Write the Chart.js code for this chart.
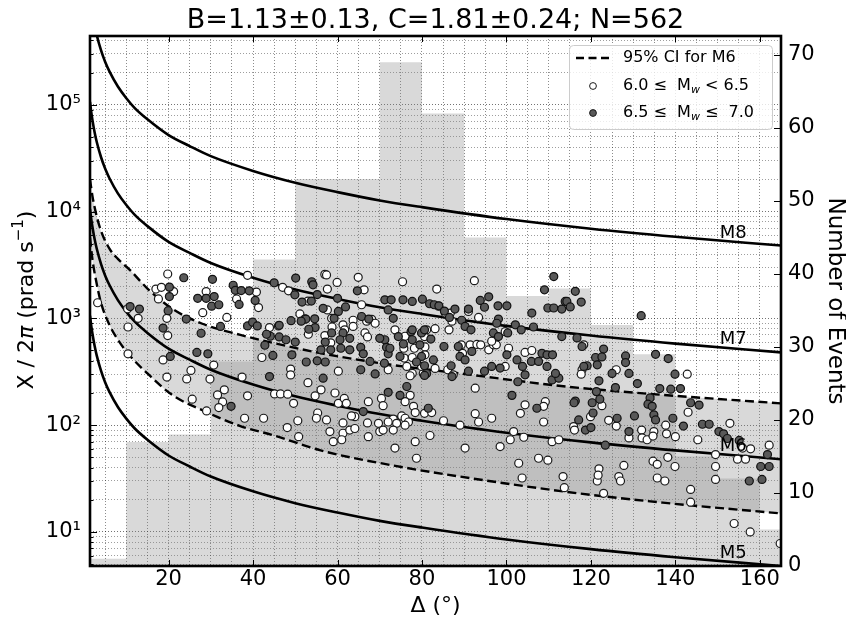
<!DOCTYPE html>
<html lang="en">
<head>
  <meta charset="UTF-8">
  <title>Rotation rate vs distance</title>
  <script src="https://cdn.jsdelivr.net/npm/chart.js"></script>
  <style>
    html, body { margin: 0; padding: 0; background: #fff; }
    #wrap { width: 846px; height: 620px; }
  </style>
</head>
<body>
  <div id="wrap"><canvas id="chart" width="846" height="620"></canvas></div>

  <script>
    // Histogram of epicentral distances, 10 degree bins (right axis)
    const binEdges = [0, 10, 20, 30, 40, 50, 60, 70, 80, 90, 100, 110, 120, 130, 140, 150, 160, 170];
    const binCounts = [1, 17, 18, 28, 42, 53, 53, 69, 62, 45, 37, 38, 33, 29, 15, 12, 5];

    // Magnitude curves, read along the distance axis
    const curveDelta = [1.4, 1.7, 2, 2.5, 3, 4, 5, 6, 8, 10, 12, 15, 20, 25, 30, 40, 50, 60, 70, 80, 100, 120, 140, 165];
    const m8Rate = [1060000, 850000, 710000, 550000, 448000, 324000, 251000, 205000, 148000, 115000, 93000, 73000, 52000, 41000, 33000, 24000, 18600, 15200, 12700, 11000, 8500, 6900, 5800, 4800];
    const m7Rate = [106000, 85000, 71000, 55000, 44800, 32400, 25100, 20500, 14800, 11500, 9300, 7300, 5200, 4100, 3300, 2400, 1860, 1520, 1270, 1100, 850, 690, 580, 480];
    const m6Rate = [10600, 8500, 7100, 5500, 4480, 3240, 2510, 2050, 1480, 1150, 930, 730, 520, 410, 330, 240, 186, 152, 127, 110, 85, 69, 58, 48];
    const m5Rate = [1060, 850, 710, 550, 448, 324, 251, 205, 148, 115, 93, 73, 52, 41, 33, 24, 18.6, 15.2, 12.7, 11.0, 8.5, 6.9, 5.8, 4.8];

    // 95% confidence band for M6
    const ciDelta = [1.4, 2, 2.8, 4, 6, 8, 11, 15, 21, 28, 37, 45, 56, 73, 89, 114, 137, 165];
    const ciUpper = [20000, 13800, 9700, 6600, 4500, 3600, 2800, 1900, 1220, 890, 700, 586, 472, 366, 305, 230, 192, 160];
    const ciLower = [5700, 3500, 2300, 1400, 870, 630, 440, 305, 190, 138, 98, 80, 58, 42, 33, 23.8, 18.8, 14.9];

    const magLabels = ['M8', 'M7', 'M6', 'M5'];
    const magLabelRate = [6300, 630, 63, 6.3];
    const magLabelDelta = 150.5;

    // events 6.0 <= Mw < 6.5  [distance, rate]
    const smallQuakes = [
      [3.2,1400],[19.8,2600],[17.0,1880],[18.3,1950],[21.2,1780],[17.6,1520],[10.3,1230],[12.8,1000],[10.4,830],[19.6,1000],
      [19.8,690],[10.4,465],[18.7,408],[19.6,282],[24.3,271],[25.3,325],[30.7,365],[29.8,270],[25.6,175],[29.0,136],
      [28.1,1130],[28.9,1780],[33.8,1020],[38.7,2530],[40.8,1760],[41.3,1260],[36.1,1520],[37.4,282],[38.7,188],[31.6,192],
      [33.2,214],[32.8,165],[31.9,146],[38.0,116],[42.5,116],[42.1,430],[43.9,820],[45.1,196],[46.5,196],[48.2,195],
      [47.0,1950],[48.4,1810],[48.9,335],[48.9,295],[49.6,160],[50.6,110],[48.1,95],[50.8,78],[53.0,1450],[51.1,1100],
      [52.3,990],[53.1,710],[53.0,250],[54.7,188],[55.3,130],[55.0,116],[56.1,214],[57.0,2580],[57.6,1880],[46.0,850],
      [57.4,2550],[59.9,2170],[64.9,2420],[66.3,1850],[75.4,2200],[83.5,1880],[92.4,2250],[57.6,1200],[58.6,1000],[58.7,830],
      [57.0,690],[58.4,590],[61.3,870],[61.7,780],[63.7,960],[63.7,840],[65.7,1340],[66.9,940],[68.1,980],[66.5,730],
      [67.1,670],[68.9,900],[73.6,780],[75.7,525],[75.8,425],[78.2,525],[77.7,430],[80.7,540],[80.6,675],[80.7,455],
      [76.0,680],[81.1,780],[83.1,800],[83.9,1300],[85.5,1120],[86.7,1120],[87.1,940],[86.4,780],[83.1,340],[86.1,330],
      [87.4,296],[89.3,565],[89.6,470],[91.4,565],[93.0,570],[93.9,565],[95.8,507],[96.9,565],[97.6,565],[96.5,610],
      [99.7,355],[100.5,525],[104.4,480],[106.0,500],[99.7,750],[93.4,1020],[91.0,1160],[60.2,320],[72.0,330],[77.7,305],
      [80.3,305],[79.9,355],[76.4,355],[77.2,290],[92.6,222],
      [59.4,200],[60.2,160],[61.6,178],[62.1,160],[67.3,166],[70.4,178],[70.8,152],[77.2,190],[76.0,166],[78.0,150],
      [78.4,131],[80.6,129],[82.3,131],[75.2,122],[73.2,114],[76.0,116],[76.8,107],[74.0,104],[72.0,107],[69.7,104],
      [70.0,87],[67.1,105],[64.1,120],[63.3,122],[61.3,105],[61.3,84],[58.2,87],[57.4,112],[62.9,90],[64.1,93],
      [67.3,78],[59.0,70],[61.0,73],[70.8,90],[73.2,90],[76.0,100],[78.4,70],[73.6,61],[81.9,80],[85.1,110],
      [89.0,100],[92.6,128],[93.4,107],[96.5,116],[103.3,129],[104.4,155],[109.2,166],[108.8,150],[108.8,107],[90.2,61],
      [98.5,63],[100.9,73],[101.7,87],[104.1,77],[110.8,70],[112.4,73],[78.7,49],[102.9,44],[107.6,49],[109.8,47],
      [118.3,565],[117.9,330],[117.7,300],[126.0,330],[122.6,152],[119.9,120],[115.9,97],[116.1,90],[124.2,111],[126.0,98],
      [129.0,76],[132.0,90],[132.1,76],[133.3,73],[134.9,87],[134.7,79],[137.7,100],[137.9,83],[140.0,78],[142.8,300],
      [143.0,132],[145.3,73],[152.9,104],[155.9,61],[157.8,60],[154.7,48],[156.6,48],[149.5,53],[162.2,65],[121.9,39],
      [127.8,42],[138.2,50],[139.9,41],[134.7,46],
      [103.7,32],[113.4,33],[113.7,26],[121.5,30],[121.7,34],[123.0,23],[126.6,33],[127.0,30],[135.7,43],[135.7,32],
      [137.5,30],[143.6,25],[143.6,19],[149.5,31],[149.5,41],[153.9,12],[157.7,10],[164.8,7.8]
    ];

    // events 6.5 <= Mw <= 7.0  [distance, rate]
    const largeQuakes = [
      [23.6,2400],[30.4,2320],[20.2,1960],[20.2,1600],[19.9,1180],[13.1,1220],[10.9,1290],[18.7,810],[24.2,985],[26.9,1540],
      [28.9,1540],[30.8,1600],[30.2,1300],[31.9,1340],[35.3,2040],[35.8,1830],[37.2,1820],[39.1,1810],[36.7,1350],[40.5,1470],
      [32.3,840],[38.7,850],[39.9,920],[41.0,850],[27.7,725],[26.7,480],[29.3,465],[20.4,440],[34.8,150],[43.9,285],
      [44.7,450],[42.8,560],[44.1,680],[43.2,710],[46.2,860],[46.2,670],[47.8,630],[49.0,950],[50.1,2380],[49.9,1660],
      [51.6,1420],[52.5,985],[53.9,2200],[54.2,2060],[55.2,1670],[56.6,1240],[54.6,990],[54.7,820],[53.2,790],[49.2,455],
      [50.0,600],[52.6,390],[55.2,400],[57.1,390],[56.6,275],[56.1,507],[57.1,600],[45.0,2150],[51.4,940],[53.8,1450],
      [64.7,1810],[60.0,1540],[61.9,1280],[60.2,1160],[59.2,1000],[58.6,730],[61.3,730],[62.9,650],[60.6,630],[58.4,507],
      [60.8,525],[62.9,507],[65.5,535],[66.1,465],[65.7,1040],[67.4,985],[71.2,1490],[72.0,1200],[73.2,1000],[72.7,1490],
      [75.5,1490],[77.7,1440],[80.1,1510],[81.8,1370],[82.9,1340],[84.0,1310],[71.2,630],[70.0,650],[71.6,535],[72.0,465],
      [72.4,525],[74.8,440],[75.6,575],[77.4,750],[77.7,630],[79.5,565],[79.9,730],[80.6,780],[82.1,640],[79.9,440],
      [80.6,360],[81.1,305],[80.6,292],[82.7,408],[78.7,390],[85.3,1170],[86.5,1020],[87.8,1220],[89.4,960],[90.2,840],
      [91.6,780],[91.0,1220],[93.8,1470],[95.8,1590],[94.8,1270],[98.0,1310],[100.1,1310],[98.1,985],[97.7,900],[96.9,730],
      [100.3,730],[98.1,675],[102.1,870],[103.5,780],[106.4,830],[106.0,1120],[109.0,1850],[111.2,2460],[109.8,1250],[111.2,1250],
      [113.1,1220],[113.9,1440],[113.1,675],[108.4,470],[109.6,455],[110.9,455],[105.9,395],[107.6,395],[110.8,265],[112.4,275],
      [102.7,255],[101.3,190],[107.2,144],[86.9,360],[87.1,285],[91.0,320],[94.8,320],[96.5,355],[98.5,342],[100.1,455],
      [102.5,408],[103.8,355],[104.4,296],[109.6,355],[111.6,305],[88.6,545],[89.0,440],[90.2,408],[91.8,490],[85.2,545],
      [76.4,230],[74.8,190],[72.0,203],[81.5,144],[66.1,134],[67.7,395],[68.9,302],[65.5,330],[71.1,380],[74.4,675],
      [77.7,780],
      [116.3,1790],[114.3,1440],[115.1,1280],[117.7,1420],[131.9,1060],[116.7,655],[117.9,545],[123.0,515],[121.1,430],[122.6,435],
      [121.5,367],[119.1,360],[118.3,355],[128.2,445],[128.2,385],[125.0,305],[129.0,305],[121.9,260],[121.3,206],[125.8,225],
      [135.3,460],[138.3,420],[139.9,300],[131.0,245],[136.3,220],[138.9,217],[141.2,220],[134.0,180],[133.5,157],[134.5,150],
      [134.9,125],[135.3,112],[139.4,116],[116.3,168],[116.0,162],[120.3,162],[120.5,130],[122.1,175],[117.1,112],[118.7,90],
      [120.0,95],[130.3,122],[129.0,87],[141.9,98],[143.6,162],[145.6,154],[146.4,102],[148.0,102],[150.3,87],[151.4,83],
      [152.3,75],[155.1,72],[161.8,53],[160.2,41],[162.2,41],[123.4,65],[126.2,116],[157.5,30],[160.5,31]
    ];

    const FONT = '"DejaVu Sans", sans-serif';
    const BAND = 'rgba(128, 128, 128, 0.3)';
    Chart.defaults.font.family = FONT;
    Chart.defaults.color = '#000';

    const xy = (xs, ys) => xs.map((x, i) => ({ x: x, y: ys[i] }));
    const histPoints = binEdges.map((e, i) => ({ x: e, y: binCounts[Math.min(i, binCounts.length - 1)] }));
    const toPoints = arr => arr.map(p => ({ x: p[0], y: p[1] }));

    const sup = { 1: '\u00B9', 2: '\u00B2', 3: '\u00B3', 4: '\u2074', 5: '\u2075' };

    function curve(data) {
      return {
        type: 'line', data: data, yAxisID: 'y',
        borderColor: '#000', borderWidth: 2.6, pointRadius: 0,
        cubicInterpolationMode: 'monotone', fill: false, order: 2
      };
    }

    function drawRich(ctx, parts, x, y, align) {
      let total = 0;
      parts.forEach(p => {
        ctx.font = (p.italic ? 'italic ' : '') + p.size + 'px ' + FONT;
        p.w = ctx.measureText(p.text).width;
        total += p.w;
      });
      let cx = align === 'center' ? x - total / 2 : x;
      ctx.textAlign = 'left';
      ctx.textBaseline = 'middle';
      parts.forEach(p => {
        ctx.font = (p.italic ? 'italic ' : '') + p.size + 'px ' + FONT;
        ctx.fillText(p.text, cx, y + (p.dy || 0));
        cx += p.w;
      });
    }

    // spines, inward ticks, curve labels, legend, title and axis titles
    const decorations = {
      id: 'decorations',
      afterDraw(chart) {
        const ctx = chart.ctx;
        const a = chart.chartArea;
        const sx = chart.scales.x, sy = chart.scales.y, sy2 = chart.scales.y2;
        ctx.save();
        ctx.fillStyle = '#000';
        ctx.strokeStyle = '#000';

        // inward tick marks
        ctx.lineWidth = 1;
        ctx.beginPath();
        for (let v = 20; v <= 160; v += 20) {
          const px = Math.round(sx.getPixelForValue(v)) + 0.5;
          ctx.moveTo(px, a.bottom); ctx.lineTo(px, a.bottom - 6);
          ctx.moveTo(px, a.top); ctx.lineTo(px, a.top + 6);
        }
        sy.ticks.forEach(t => {
          const py = Math.round(sy.getPixelForValue(t.value)) + 0.5;
          const e = Math.log10(t.value);
          const len = Math.abs(e - Math.round(e)) < 1e-9 ? 7 : 3.5;
          ctx.moveTo(a.left, py); ctx.lineTo(a.left + len, py);
        });
        sy2.ticks.forEach(t => {
          const py = Math.round(sy2.getPixelForValue(t.value)) + 0.5;
          ctx.moveTo(a.right, py); ctx.lineTo(a.right - 7, py);
        });
        ctx.stroke();

        // spines
        ctx.lineWidth = 2.6;
        ctx.strokeRect(a.left, a.top, a.right - a.left, a.bottom - a.top);

        // magnitude labels
        ctx.font = '18px ' + FONT;
        ctx.textAlign = 'left';
        ctx.textBaseline = 'middle';
        magLabels.forEach((m, i) => {
          ctx.fillText(m, sx.getPixelForValue(magLabelDelta), sy.getPixelForValue(magLabelRate[i]));
        });

        // legend
        const lx = 569, ly = 45, lw = 203, lh = 84;
        ctx.beginPath();
        ctx.roundRect(lx + 0.5, ly + 0.5, lw, lh, 4);
        ctx.fillStyle = 'rgba(255,255,255,0.8)';
        ctx.fill();
        ctx.strokeStyle = '#cccccc';
        ctx.lineWidth = 1;
        ctx.stroke();
        ctx.fillStyle = '#000';
        ctx.strokeStyle = '#000';
        ctx.lineWidth = 2.4;
        ctx.setLineDash([8, 4.5]);
        ctx.beginPath();
        ctx.moveTo(576, 58); ctx.lineTo(610, 58);
        ctx.stroke();
        ctx.setLineDash([]);
        ctx.lineWidth = 1;
        [[86, '#ffffff'], [113, '#595959']].forEach(m => {
          ctx.beginPath();
          ctx.arc(593, m[0], 3.4, 0, Math.PI * 2);
          ctx.fillStyle = m[1];
          ctx.fill();
          ctx.strokeStyle = '#1a1a1a';
          ctx.stroke();
        });
        ctx.fillStyle = '#000';
        drawRich(ctx, [{ text: '95% CI for M6', size: 16 }], 623, 58, 'left');
        drawRich(ctx, [
          { text: '6.0 \u2264  M', size: 16 }, { text: 'w', size: 11, italic: true, dy: 4 },
          { text: ' < 6.5', size: 16 }
        ], 623, 86, 'left');
        drawRich(ctx, [
          { text: '6.5 \u2264  M', size: 16 }, { text: 'w', size: 11, italic: true, dy: 4 },
          { text: ' \u2264  7.0', size: 16 }
        ], 623, 113, 'left');

        // title
        ctx.font = '27px ' + FONT;
        ctx.textAlign = 'center';
        ctx.textBaseline = 'alphabetic';
        ctx.fillText('B=1.13\u00B10.13, C=1.81\u00B10.24; N=562', (a.left + a.right) / 2, 28);

        // axis titles
        drawRich(ctx, [{ text: '\u0394 (\u00B0)', size: 22 }], (a.left + a.right) / 2, 606, 'center');

        ctx.save();
        ctx.translate(27, 300);
        ctx.rotate(-Math.PI / 2);
        drawRich(ctx, [
          { text: 'X / 2', size: 22 }, { text: '\u03C0', size: 22, italic: true },
          { text: ' (prad s', size: 22 }, { text: '\u22121', size: 15, dy: -8 }, { text: ')', size: 22 }
        ], 0, 0, 'center');
        ctx.restore();

        ctx.save();
        ctx.translate(835, 301);
        ctx.rotate(Math.PI / 2);
        drawRich(ctx, [{ text: 'Number of Events', size: 23 }], 0, 0, 'center');
        ctx.restore();

        ctx.restore();
      }
    };

    const gridDash = [1, 2];

    new Chart(document.getElementById('chart'), {
      type: 'line',
      data: {
        datasets: [
          {
            label: 'Events per bin', data: histPoints, yAxisID: 'y2',
            stepped: true, fill: 'origin', backgroundColor: BAND,
            borderColor: 'transparent', borderWidth: 0, pointRadius: 0, order: 4
          },
          {
            label: '95% CI upper', data: xy(ciDelta, ciUpper), yAxisID: 'y',
            borderColor: '#000', borderWidth: 2.4, borderDash: [9, 4.5], pointRadius: 0,
            cubicInterpolationMode: 'monotone', fill: false, order: 3
          },
          {
            label: '95% CI for M6', data: xy(ciDelta, ciLower), yAxisID: 'y',
            borderColor: '#000', borderWidth: 2.4, borderDash: [9, 4.5], pointRadius: 0,
            cubicInterpolationMode: 'monotone', fill: { target: 1 }, backgroundColor: BAND, order: 3
          },
          Object.assign(curve(xy(curveDelta, m8Rate)), { label: 'M8' }),
          Object.assign(curve(xy(curveDelta, m7Rate)), { label: 'M7' }),
          Object.assign(curve(xy(curveDelta, m6Rate)), { label: 'M6' }),
          Object.assign(curve(xy(curveDelta, m5Rate)), { label: 'M5' }),
          {
            type: 'scatter', label: '6.0 \u2264 Mw < 6.5', data: toPoints(smallQuakes), yAxisID: 'y',
            backgroundColor: '#ffffff', borderColor: '#1a1a1a', borderWidth: 1.2,
            pointRadius: 4, order: 1
          },
          {
            type: 'scatter', label: '6.5 \u2264 Mw \u2264 7.0', data: toPoints(largeQuakes), yAxisID: 'y',
            backgroundColor: '#595959', borderColor: '#111111', borderWidth: 1.2,
            pointRadius: 4, order: 0
          }
        ]
      },
      options: {
        responsive: false,
        animation: false,
        layout: { padding: { top: 36, left: 0, right: 0, bottom: 0 } },
        plugins: { legend: { display: false }, tooltip: { enabled: false }, title: { display: false } },
        scales: {
          x: {
            type: 'linear', min: 1.4, max: 165,
            afterBuildTicks: s => {
              const t = [];
              for (let v = 5; v <= 160; v += 5) t.push({ value: v });
              s.ticks = t;
            },
            afterFit: s => { s.height = 54; },
            ticks: {
              autoSkip: false, maxRotation: 0, padding: 1, font: { size: 21 },
              callback: v => (v % 20 === 0 ? String(v) : '')
            },
            grid: { color: 'rgba(0,0,0,0.45)', lineWidth: 1, drawTicks: false },
            border: { display: false, dash: gridDash }
          },
          y: {
            type: 'logarithmic', position: 'left', min: 4.8, max: 440000,
            afterBuildTicks: s => {
              const t = [];
              for (let d = 1; d <= 100000; d *= 10) {
                for (let k = 1; k <= 9; k++) {
                  const v = k * d;
                  if (v >= 5 && v <= 400000) t.push({ value: v });
                }
              }
              s.ticks = t;
            },
            afterFit: s => { s.width = 90; },
            ticks: {
              autoSkip: false, padding: 9, font: { size: 21 },
              callback: v => {
                const e = Math.round(Math.log10(v));
                return Math.abs(v - Math.pow(10, e)) < 1e-6 * v ? '10' + sup[e] : '';
              }
            },
            grid: {
              lineWidth: 1, drawTicks: false,
              color: c => {
                const e = Math.log10(c.tick.value);
                return Math.abs(e - Math.round(e)) < 1e-9 ? 'rgba(0,0,0,0.55)' : 'rgba(0,0,0,0.38)';
              }
            },
            border: { display: false, dash: gridDash }
          },
          y2: {
            type: 'linear', position: 'right', min: 0, max: 72.6,
            afterBuildTicks: s => {
              const t = [];
              for (let v = 0; v <= 70; v += 10) t.push({ value: v });
              s.ticks = t;
            },
            afterFit: s => { s.width = 65; },
            ticks: { autoSkip: false, padding: 7, font: { size: 21 } },
            grid: { drawOnChartArea: false, drawTicks: false },
            border: { display: false }
          }
        }
      },
      plugins: [decorations]
    });
  </script>
</body>
</html>
